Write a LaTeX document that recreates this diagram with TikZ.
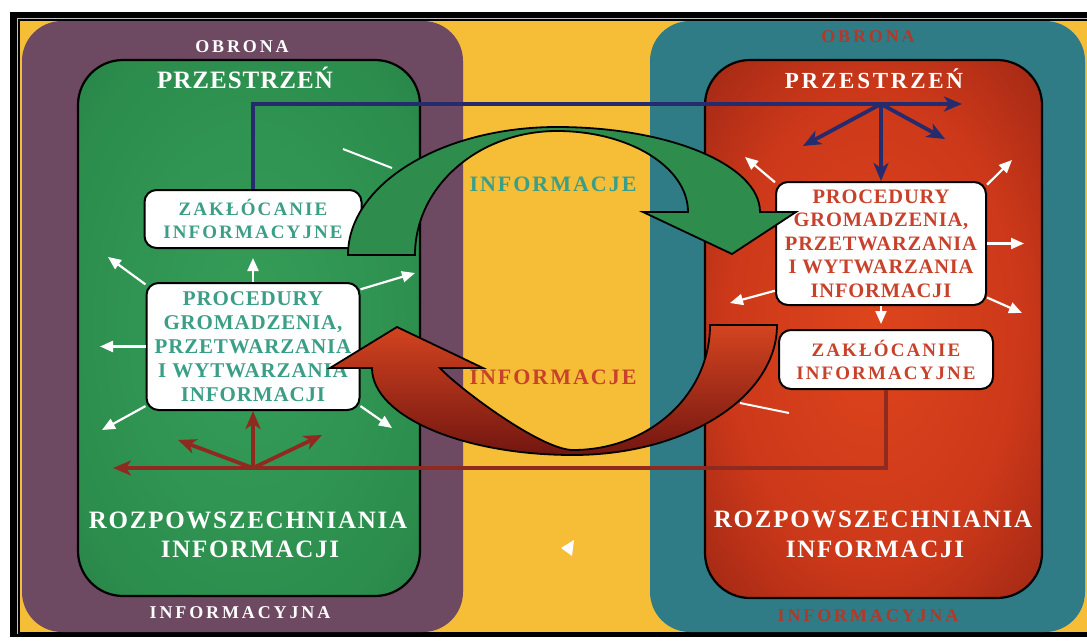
\documentclass[tikz,border=0pt]{standalone}
\usepackage{fontspec}
\setmainfont{Liberation Serif}
\newfontfamily\lsA[LetterSpace=16]{Liberation Serif}
\newfontfamily\lsB[LetterSpace=4]{Liberation Serif}
\newfontfamily\lsC[LetterSpace=12]{Liberation Serif}
\newfontfamily\lsD[LetterSpace=7]{Liberation Serif}
\newfontfamily\lsE[LetterSpace=9]{Liberation Serif}
\newfontfamily\lsF[LetterSpace=11]{Liberation Serif}
\usetikzlibrary{arrows.meta}
\definecolor{bgyellow}{HTML}{F6BD36}
\definecolor{purp}{HTML}{6E4962}
\definecolor{tealc}{HTML}{2F7C87}
\definecolor{greenarrow}{HTML}{2E8C4C}
\definecolor{tealtext}{HTML}{3B9E86}
\definecolor{redtext}{HTML}{C8412B}
\definecolor{dimred}{HTML}{B0392A}
\definecolor{navy}{HTML}{262B6E}
\definecolor{darkred}{HTML}{8E2A1F}
\definecolor{redarrowtop}{HTML}{D44420}
\definecolor{redarrowbot}{HTML}{721610}
\pgfdeclareradialshading{greenrad}{\pgfpoint{0bp}{0bp}}{rgb(0bp)=(0.21,0.62,0.35); rgb(30bp)=(0.17,0.55,0.30); rgb(50bp)=(0.12,0.43,0.23)}
\pgfdeclareradialshading{redrad}{\pgfpoint{0bp}{0bp}}{rgb(0bp)=(0.87,0.27,0.11); rgb(22bp)=(0.80,0.22,0.10); rgb(50bp)=(0.45,0.09,0.06)}
\tikzset{
  infobox/.style={draw=black, line width=2pt, fill=white, rounded corners=12pt, inner sep=0pt, align=center},
  whitearrow/.style={draw=white, line width=2.2pt, -{Triangle[length=13pt,width=11pt]}},
  whiteline/.style={draw=white, line width=2pt},
  navyarrow/.style={draw=navy, line width=3.8pt, -{Stealth[length=18pt,width=15pt,inset=5pt]}},
  redarrow/.style={draw=darkred, line width=3.8pt, -{Stealth[length=18pt,width=15pt,inset=5pt]}},
  bigtitle/.style={text=white, font=\fontsize{25}{29}\selectfont\bfseries\lsD, anchor=base, inner sep=0pt},
  smalltitle/.style={font=\fontsize{18}{20}\selectfont\bfseries\lsA, anchor=base, inner sep=0pt},
  infolabel/.style={font=\fontsize{22}{24}\selectfont\bfseries\lsE, anchor=base, inner sep=0pt},
  outline/.style={draw=black, line width=2.2pt, rounded corners=45pt}
}
\begin{document}
\begin{tikzpicture}[x=1pt, y=-1pt]
\useasboundingbox (0,0) rectangle (1087,640);
\fill[white] (0,0) rectangle (1087,640);
% frame
\fill[black] (10,12) rectangle (1087,637);
\draw[gray!50, line width=0.8pt] (17,634) -- (17,18) -- (1087,18);
\fill[bgyellow] (20,21) rectangle (1087,632);
% outer areas
\fill[purp, rounded corners=40pt] (22,21) rectangle (463,632);
\fill[tealc, rounded corners=40pt] (650,21) rectangle (1085,632);
% inner areas
\shade[shading=greenrad, rounded corners=45pt] (78,60) rectangle (420,596);
\draw[outline] (78,60) rectangle (420,596);
\shade[shading=redrad, rounded corners=45pt] (705,60) rectangle (1042,598);
\draw[outline] (705,60) rectangle (1042,598);
% titles
\node[smalltitle, text=white] (lobrona) at (242,52) {OBRONA};
\node[smalltitle, text=dimred] (robrona) at (868,42) {OBRONA};
\node[text=white, font=\fontsize{25}{29}\selectfont\bfseries\lsB, anchor=base, inner sep=0pt] (lprzes) at (245,88) {PRZESTRZEŃ};
\node[text=white, font=\fontsize{23}{27}\selectfont\bfseries\lsC, anchor=base, inner sep=0pt] (rprzes) at (874,88) {PRZESTRZEŃ};
\node[bigtitle] (lroza) at (248,528) {ROZPOWSZECHNIANIA};
\node[bigtitle] (lrozb) at (250,557) {INFORMACJI};
\node[bigtitle] (rroza) at (873,527) {ROZPOWSZECHNIANIA};
\node[bigtitle] (rrozb) at (875,557) {INFORMACJI};
\node[smalltitle, text=white] (linfna) at (240,618) {INFORMACYJNA};
\node[smalltitle, text=dimred] (rinfna) at (868,621) {INFORMACYJNA};
% boxes
\node[infobox, minimum width=217pt, minimum height=58pt, text=tealtext, font=\fontsize{19}{23}\selectfont\bfseries\lsF] (lzak) at (253,219) {ZAKŁÓCANIE\\INFORMACYJNE};
\node[infobox, minimum width=213pt, minimum height=127pt, text=tealtext, font=\fontsize{21}{24}\selectfont\bfseries\lsB] (lproc) at (253,346.5) {PROCEDURY\\GROMADZENIA,\\PRZETWARZANIA\\I WYTWARZANIA\\INFORMACJI};
\node[infobox, minimum width=210pt, minimum height=123pt, text=redtext, font=\fontsize{20.5}{23.5}\selectfont\bfseries\lsB] (rproc) at (881,243.5) {PROCEDURY\\GROMADZENIA,\\PRZETWARZANIA\\I WYTWARZANIA\\INFORMACJI};
\node[infobox, minimum width=214pt, minimum height=59pt, text=redtext, font=\fontsize{19}{23}\selectfont\bfseries\lsF] (rzak) at (886,359.5) {ZAKŁÓCANIE\\INFORMACYJNE};
% coordinates
\coordinate (bluetip) at (962,104);
\coordinate (bhub) at (881,104);
\coordinate (bleft) at (803,146);
\coordinate (bright) at (945,139);
\coordinate (redtip) at (113,468);
\coordinate (rhub) at (253,468);
\coordinate (rleft) at (178,440);
\coordinate (rright) at (322,435);
\coordinate (lw1) at (108,257);
\coordinate (lw2) at (415,273);
\coordinate (lw3) at (100,346.5);
\coordinate (lw4) at (102,430);
\coordinate (lw5) at (392,428);
\coordinate (lw6) at (253,258);
\coordinate (rw1) at (745,157);
\coordinate (rw2) at (1012,160);
\coordinate (rw3) at (1024,243.5);
\coordinate (rw4) at (730,303);
\coordinate (rw5) at (1022,313);
\coordinate (rw6) at (881,324);
\coordinate (hla) at (343,149);
\coordinate (hlb) at (392,168);
\coordinate (hra) at (740,403);
\coordinate (hrb) at (789,413);
% blue connectors
\draw[navyarrow] (lzak.north) |- (bluetip);
\draw[navyarrow] (bhub) -- (rproc.north);
\draw[navyarrow] (bhub) -- (bleft);
\draw[navyarrow] (bhub) -- (bright);
% red connectors
\draw[redarrow] (rzak.south) |- (redtip);
\draw[redarrow] (rhub) -- (lproc.south);
\draw[redarrow] (rhub) -- (rleft);
\draw[redarrow] (rhub) -- (rright);
% white arrows
\draw[whitearrow] (lproc.150) -- (lw1);
\draw[whitearrow] (lproc.28) -- (lw2);
\draw[whitearrow] (lproc.west) -- (lw3);
\draw[whitearrow] (lproc.209) -- (lw4);
\draw[whitearrow] (lproc.331) -- (lw5);
\draw[whitearrow] (lproc.north) -- (lw6);
\draw[whitearrow] (rproc.150) -- (rw1);
\draw[whitearrow] (rproc.29) -- (rw2);
\draw[whitearrow] (rproc.east) -- (rw3);
\draw[whitearrow] (rproc.204) -- (rw4);
\draw[whitearrow] (rproc.333) -- (rw5);
\draw[whitearrow] (rproc.south) -- (rw6);
\draw[whiteline] (hla) -- (hlb);
\draw[whiteline] (hra) -- (hrb);
% big curved arrows
\path[draw=black, line width=1.8pt, fill=greenarrow, line join=miter]
  (348,255) -- (415,255)
  .. controls (415,186) and (479,131) .. (557,131)
  .. controls (629,131) and (688,167) .. (688,212)
  -- (643,212) -- (732,254) -- (796,212) -- (760,212)
  .. controls (760,165) and (669,127) .. (557,127)
  .. controls (442,127) and (348,184) .. (348,255) -- cycle;
\path[draw=black, line width=1.8pt, top color=redarrowtop, bottom color=redarrowbot, line join=miter]
  (777,325) .. controls (777,397) and (686,455) .. (573,455)
  .. controls (462,455) and (372,416) .. (372,368)
  -- (330,368) -- (397,327) -- (483,368) -- (440,368)
  .. controls (455,385) and (540,450) .. (573,450)
  .. controls (649,450) and (710,395) .. (710,325) -- cycle;
% small white mark
\fill[white] (561,548) -- (574,540) -- (572,556) -- cycle;
% center labels
\node[infolabel, text=tealtext] (infg) at (553,191) {INFORMACJE};
\node[infolabel, text=redtext] (infr) at (553,384) {INFORMACJE};
\end{tikzpicture}
\end{document}
